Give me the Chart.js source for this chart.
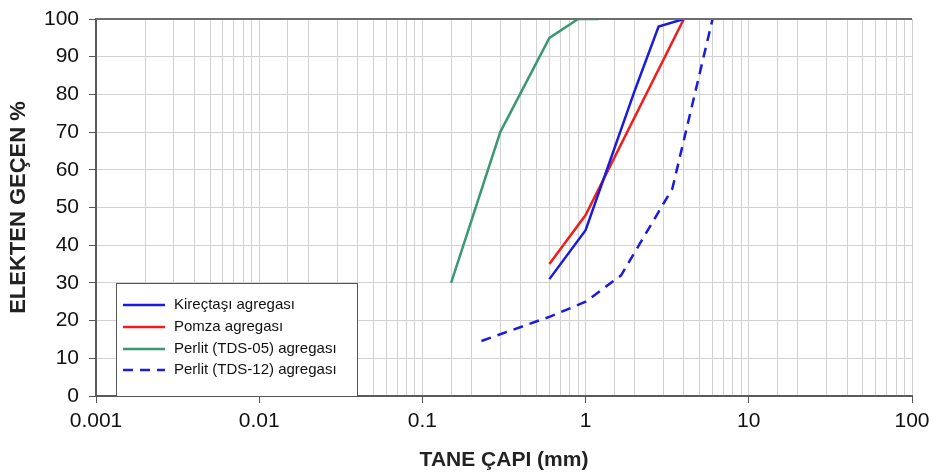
<!DOCTYPE html>
<html>
<head>
<meta charset="utf-8">
<script src="https://cdn.jsdelivr.net/npm/chart.js@4.4.1/dist/chart.umd.min.js"></script>
<style>
  html, body { margin: 0; padding: 0; background: #fff; }
  #wrap { width: 937px; height: 473px; position: relative; }
</style>
</head>
<body>
<div id="wrap"><canvas id="grafik"></canvas></div>
<script>
/* ── Veriler (tane çapı mm / elekten geçen %) ── */
const kirectasiX = [0.6, 1.0, 2.0, 2.8, 4.0];
const kirectasiY = [31, 44, 81, 98, 100];

const pomzaX = [0.6, 1.0, 4.0];
const pomzaY = [35, 48, 100];

const perlit05X = [0.15, 0.3, 0.6, 0.9, 1.2];
const perlit05Y = [30, 70, 95, 100, 100];

const perlit12X = [0.23, 0.6, 1.0, 1.65, 3.4, 6.0];
const perlit12Y = [14.6, 21, 25, 32, 55, 100];

const seriAdlari = ['Kireçtaşı agregası', 'Pomza agregası', 'Perlit (TDS-05) agregası', 'Perlit (TDS-12) agregası'];
const xTickLabels = ['0.001', '0.01', '0.1', '1', '10', '100'];

const FONT = 'Arial, "Liberation Sans", sans-serif';

function pts(xs, ys) {
  return xs.map((x, i) => ({ x, y: ys[i] }));
}

function isDecade(v) {
  const l = Math.log10(v);
  return Math.abs(l - Math.round(l)) < 1e-9;
}

/* ── Üst çerçeve çizgisi ── */
const cerceve = {
  id: 'cerceve',
  afterDatasetsDraw(chart) {
    const { ctx, chartArea: a } = chart;
    ctx.save();
    ctx.strokeStyle = '#6e6e6e';
    ctx.lineWidth = 2;
    ctx.beginPath();
    ctx.moveTo(a.left, a.top);
    ctx.lineTo(a.right, a.top);
    ctx.stroke();
    ctx.restore();
  }
};

/* ── Lejant kutusu (grafiğin içinde) ── */
const lejant = {
  id: 'lejant',
  afterDatasetsDraw(chart) {
    const { ctx, chartArea: a } = chart;
    const x0 = 116, x1 = 357, y0 = 283, y1 = a.bottom;
    ctx.save();
    ctx.fillStyle = '#fff';
    ctx.fillRect(x0, y0, x1 - x0, y1 - y0);
    ctx.strokeStyle = '#555';
    ctx.lineWidth = 1;
    ctx.strokeRect(x0 + 0.5, y0 + 0.5, x1 - x0, y1 - y0);
    const rows = [305, 327, 349, 370];
    chart.data.datasets.forEach((ds, i) => {
      const y = rows[i];
      ctx.strokeStyle = ds.borderColor;
      ctx.lineWidth = 2.5;
      ctx.setLineDash(ds.borderDash || []);
      ctx.beginPath();
      ctx.moveTo(123, y);
      ctx.lineTo(165, y);
      ctx.stroke();
      ctx.setLineDash([]);
      ctx.fillStyle = '#111';
      ctx.font = '15px ' + FONT;
      ctx.textBaseline = 'middle';
      ctx.fillText(ds.label, 174, y);
    });
    ctx.restore();
  }
};

const ortak = { fill: false, borderWidth: 2.5, pointRadius: 0, tension: 0 };

new Chart(document.getElementById('grafik'), {
  type: 'line',
  data: {
    datasets: [
      { ...ortak, label: seriAdlari[0], data: pts(kirectasiX, kirectasiY), borderColor: '#1a1ae0' },
      { ...ortak, label: seriAdlari[1], data: pts(pomzaX, pomzaY), borderColor: '#f21c1c' },
      { ...ortak, label: seriAdlari[2], data: pts(perlit05X, perlit05Y), borderColor: '#3a9872' },
      { ...ortak, label: seriAdlari[3], data: pts(perlit12X, perlit12Y), borderColor: '#1a1ae0', borderDash: [10, 7] },
    ]
  },
  options: {
    responsive: true,
    maintainAspectRatio: false,
    animation: false,
    layout: { padding: { top: 19, right: 25, left: 0, bottom: 0 } },
    plugins: { legend: { display: false }, tooltip: { enabled: false } },
    scales: {
      x: {
        type: 'logarithmic',
        min: 0.001,
        max: 100,
        afterFit: s => { s.height = 77; },
        grid: {
          color: '#d2d2d2',
          lineWidth: 1,
          tickLength: 7,
          tickColor: c => (c.tick && isDecade(c.tick.value)) ? '#555' : 'rgba(0,0,0,0)',
        },
        border: { color: '#5a5a5a', width: 2 },
        ticks: {
          autoSkip: false,
          maxRotation: 0,
          padding: 6,
          color: '#111',
          font: { family: FONT, size: 21 },
          callback: v => isDecade(v) ? xTickLabels[Math.round(Math.log10(v)) + 3] : '',
        },
        title: {
          display: true,
          text: 'TANE ÇAPI (mm)',
          color: '#222',
          font: { family: FONT, size: 21, weight: 'bold' },
          padding: { top: 0, bottom: 0 },
        },
      },
      y: {
        min: 0,
        max: 100,
        afterFit: s => { s.width = 96; s.paddingTop = 0; s.paddingBottom = 0; },
        grid: { color: '#d2d2d2', lineWidth: 1, tickLength: 7, tickColor: '#555' },
        border: { color: '#5a5a5a', width: 2 },
        ticks: {
          stepSize: 10,
          padding: 10,
          color: '#111',
          font: { family: FONT, size: 21 },
        },
        title: {
          display: true,
          text: 'ELEKTEN GEÇEN %',
          color: '#222',
          font: { family: FONT, size: 22, weight: 'bold' },
          padding: { top: 6, bottom: 0 },
        },
      },
    },
  },
  plugins: [cerceve, lejant],
});
</script>
</body>
</html>
